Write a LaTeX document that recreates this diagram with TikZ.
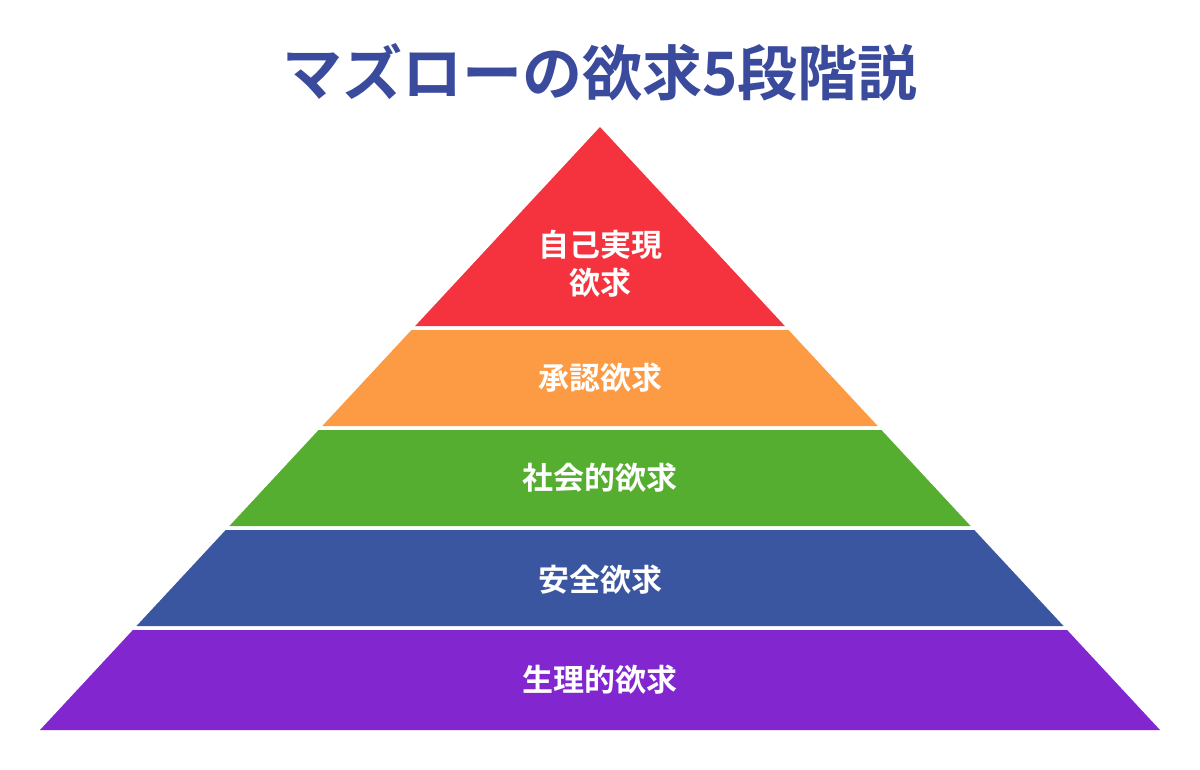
\documentclass[tikz,border=0pt]{standalone}
\usepackage{fontspec}
\newfontfamily\cjk{Noto Sans CJK JP Bold}
\definecolor{cred}{HTML}{F5333F}
\definecolor{corange}{HTML}{FD9A44}
\definecolor{cgreen}{HTML}{56AE31}
\definecolor{cblue}{HTML}{3A56A0}
\definecolor{cpurple}{HTML}{8227CF}
\definecolor{ctitle}{HTML}{3A4A9C}
\tikzset{lbl/.style={text=white,font=\cjk\fontsize{31}{38}\selectfont,align=center}}
\begin{document}
\begin{tikzpicture}[x=1pt,y=-1pt]
\useasboundingbox[fill=white] (0,0) rectangle (1200,770);
\node[text=ctitle,font=\cjk\fontsize{60}{70}\selectfont] (title) at (600,72) {マズローの欲求5段階説};
\fill[cred] (600,127) -- (784.8,326) -- (415.2,326) -- cycle;
\fill[corange] (411.5,330) -- (788.5,330) -- (877.7,426) -- (322.3,426) -- cycle;
\fill[cgreen] (318.6,430) -- (881.4,430) -- (970.6,526) -- (229.4,526) -- cycle;
\fill[cblue] (225.7,530) -- (974.3,530) -- (1063.5,626) -- (136.5,626) -- cycle;
\fill[cpurple] (132.9,630) -- (1067.1,630) -- (1160,730) -- (40,730) -- cycle;
\node[lbl] (l1) at (600,264) {自己実現\\欲求};
\node[lbl] (l2) at (600,378) {承認欲求};
\node[lbl] (l3) at (600,478) {社会的欲求};
\node[lbl] (l4) at (600,580) {安全欲求};
\node[lbl] (l5) at (600,680) {生理的欲求};
\end{tikzpicture}
\end{document}
